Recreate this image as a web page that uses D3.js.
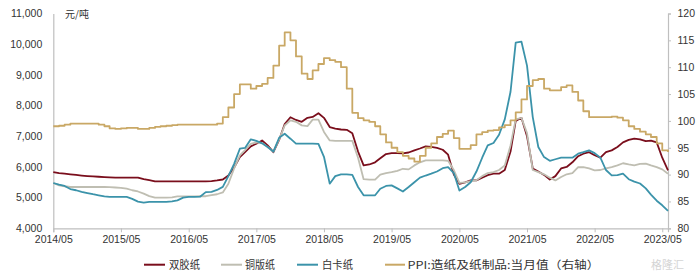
<!DOCTYPE html>
<html>
<head>
<meta charset="utf-8">
<script src="https://cdn.jsdelivr.net/npm/d3@7"></script>
<style>
  body { margin: 0; background: #fff; }
  svg { display: block; font-family: "Liberation Sans", Arial, sans-serif; }
</style>
</head>
<body>
<svg id="chart" width="700" height="272"></svg>
<script>
// monthly, 2014/05 .. 2023/06
const startMonth = new Date(2014, 4, 1);
const endMonth = new Date(2023, 5, 1);
const months = d3.timeMonth.range(startMonth, d3.timeMonth.offset(endMonth, 1));

const shuangjiao = [5833, 5800, 5780, 5760, 5740, 5720, 5703, 5690, 5680, 5670,
  5660, 5650, 5650, 5650, 5650, 5650, 5600, 5570, 5530, 5530,
  5530, 5530, 5530, 5530, 5530, 5530, 5530, 5530, 5540, 5560,
  5590, 5720, 5980, 6320, 6480, 6670, 6757, 6860, 6700, 6480,
  6880, 7400, 7620, 7530, 7470, 7600, 7630, 7750, 7600, 7300,
  7250, 7220, 7210, 7100, 6500, 6050, 6080, 6150, 6280, 6420,
  6450, 6450, 6440, 6470, 6540, 6600, 6670, 6650, 6620, 6560,
  6400, 5750, 5450, 5500, 5560, 5563, 5650, 5730, 5780, 5780,
  5900, 6500, 7500, 7600, 7000, 5950, 5850, 5740, 5590, 5700,
  5950, 6000, 6150, 6350, 6430, 6480, 6380, 6300, 6480, 6540,
  6650, 6800, 6880, 6920, 6900, 6840, 6860, 6800, 6300, 5890];

const tongban = [5476, 5400, 5370, 5346, 5346, 5346, 5346, 5346, 5346, 5346,
  5340, 5330, 5320, 5290, 5240, 5200, 5130, 5050, 5000, 5000,
  5000, 5010, 5042, 5042, 5042, 5042, 5045, 5045, 5080, 5110,
  5170, 5450, 5950, 6380, 6550, 6750, 6800, 6780, 6650, 6500,
  6900, 7350, 7517, 7470, 7354, 7330, 7540, 7540, 7140, 6865,
  6850, 6850, 6850, 6850, 6300, 5600, 5585, 5585, 5750, 5800,
  5830, 5870, 5940, 5920, 6050, 6150, 6214, 6214, 6214, 6214,
  6200, 5900, 5480, 5500, 5540, 5563, 5700, 5800, 5833, 5900,
  6050, 6700, 7550, 7600, 7100, 5900, 5833, 5760, 5650, 5560,
  5670, 5760, 5800, 5990, 5996, 5950, 5890, 5900, 5950, 5996,
  6050, 6120, 6080, 6051, 6100, 6107, 6050, 5996, 5920, 5780];

const baika = [5476, 5420, 5380, 5280, 5240, 5190, 5150, 5110, 5075, 5040,
  5022, 5022, 5022, 5022, 4960, 4870, 4840, 4860, 4860, 4860,
  4860, 4880, 4912, 5000, 5022, 5022, 5030, 5180, 5190, 5250,
  5350, 5700, 6100, 6594, 6620, 6900, 6850, 6770, 6650, 6500,
  6950, 7080, 6920, 6757, 6757, 6757, 6757, 6750, 6330, 5454,
  5700, 5758, 5758, 5740, 5346, 5075, 5075, 5075, 5290, 5380,
  5400, 5300, 5200, 5346, 5500, 5650, 5720, 5780, 5850, 5960,
  5996, 5800, 5230, 5346, 5500, 5850, 6300, 6700, 6780, 7050,
  7550, 8450, 10050, 10080, 9300, 7625, 6650, 6320, 6200, 6250,
  6300, 6300, 6300, 6432, 6480, 6540, 6450, 6300, 5900, 5726,
  5730, 5780, 5600, 5520, 5460, 5300, 5100, 4900, 4750, 4570];

const ppi = [99.0, 99.1, 99.3, 99.5, 99.5, 99.5, 99.5, 99.5, 99.3, 99.0,
  98.6, 98.5, 98.6, 98.7, 98.7, 98.5, 98.5, 98.7, 98.9, 99.0,
  99.1, 99.2, 99.3, 99.3, 99.3, 99.3, 99.3, 99.3, 99.3, 99.5,
  100.7, 102.5, 105.0, 106.8, 106.8, 106.0, 106.5, 106.9, 108.0, 110.3,
  114.0, 116.5, 115.0, 112.0, 108.8, 107.8, 109.4, 110.6, 111.7, 111.3,
  111.0, 110.0, 106.0, 101.5, 100.5, 100.1, 99.8, 99.0, 97.5, 96.0,
  95.0, 94.2, 93.5, 93.0, 92.4, 93.5, 95.0, 95.8, 97.0, 97.6,
  98.2, 96.8, 94.8, 94.8, 95.5, 97.5, 97.9, 98.2, 98.3, 98.8,
  99.2, 100.1, 101.6, 104.0, 106.5, 107.6, 107.8, 106.0, 105.7, 105.7,
  106.3, 106.6, 105.4, 103.8, 101.8, 100.7, 100.7, 100.7, 100.7, 100.8,
  100.6, 100.1, 99.0, 98.5, 98.0, 97.5, 97.0, 95.8, 94.5, 94.2];

const leftTicks = [4000, 5000, 6000, 7000, 8000, 9000, 10000, 11000];
const rightTicks = [80, 85, 90, 95, 100, 105, 110, 115, 120];
const yearTicks = d3.range(2014, 2024).map(y => new Date(y, 4, 1));

const series = [
  { name: '双胶纸', values: shuangjiao, color: '#7a0e1c', axis: 'left' },
  { name: '铜版纸', values: tongban, color: '#bfbeb2', axis: 'left' },
  { name: '白卡纸', values: baika, color: '#3b93aa', axis: 'left' },
  { name: 'PPI:造纸及纸制品:当月值（右轴）', values: ppi, color: '#c9a865', axis: 'right' },
];

const margin = { left: 53.3, right: 668, top: 13.5, bottom: 228.3 };
const axisColor = '#bfbfbf';
const textColor = '#333';
const fontSize = '10.5px';

const svg = d3.select('#chart');

const x = d3.scaleTime()
  .domain([startMonth, endMonth])
  .range([margin.left, margin.right]);
const yLeft = d3.scaleLinear()
  .domain([4000, 11000])
  .range([margin.bottom, margin.top]);
const yRight = d3.scaleLinear()
  .domain([80, 120])
  .range([margin.bottom, margin.top]);

// axes
const xAxis = svg.append('g')
  .attr('transform', `translate(0,${margin.bottom})`)
  .call(d3.axisBottom(x).tickValues(yearTicks).tickFormat(d3.timeFormat('%Y/%m'))
    .tickSizeOuter(0).tickSize(4).tickPadding(3));

const leftAxis = svg.append('g')
  .attr('transform', `translate(${margin.left},0)`)
  .call(d3.axisLeft(yLeft).tickValues(leftTicks).tickFormat(d3.format(','))
    .tickSize(0).tickPadding(11));

const rightAxis = svg.append('g')
  .attr('transform', `translate(${margin.right},0)`)
  .call(d3.axisRight(yRight).tickValues(rightTicks)
    .tickSizeOuter(0).tickSize(3).tickPadding(6.5));

[xAxis, leftAxis, rightAxis].forEach((g) => {
  g.select('.domain').attr('stroke', axisColor).attr('stroke-width', 1.2);
  g.selectAll('.tick line').attr('stroke', axisColor);
  g.selectAll('text')
    .attr('fill', textColor)
    .style('font-size', fontSize)
    .style('font-family', '"Liberation Sans", Arial, sans-serif');
});

svg.append('text')
  .attr('x', 65)
  .attr('y', 17.5)
  .attr('fill', textColor)
  .style('font-size', '10px')
  .style('font-family', '"Noto Sans CJK SC", sans-serif')
  .text('元/吨');

// lines
series.forEach((s) => {
  const yScale = s.axis === 'left' ? yLeft : yRight;
  const line = d3.line()
    .x((d, i) => x(months[i]))
    .y(d => yScale(d))
    .curve(s.axis === 'right' ? d3.curveStepAfter : d3.curveLinear);
  svg.append('path')
    .datum(s.values)
    .attr('fill', 'none')
    .attr('stroke', s.color)
    .attr('stroke-width', 1.8)
    .attr('stroke-linejoin', 'round')
    .attr('d', line);
});

// legend
const legendY = 264.7;
const legendItems = [
  { x0: 144, x1: 165, tx: 169, tw: 31 },
  { x0: 221, x1: 242, tx: 245, tw: 30 },
  { x0: 297, x1: 318, tx: 322, tw: 31 },
  { x0: 385, x1: 405, tx: 407.5, tw: 192 },
];

const legend = svg.append('g');
legendItems.forEach((item, i) => {
  legend.append('line')
    .attr('x1', item.x0)
    .attr('x2', item.x1)
    .attr('y1', legendY)
    .attr('y2', legendY)
    .attr('stroke', series[i].color)
    .attr('stroke-width', 2);
  legend.append('text')
    .attr('x', item.tx)
    .attr('y', legendY + 4)
    .attr('fill', textColor)
    .attr('textLength', item.tw)
    .attr('lengthAdjust', 'spacingAndGlyphs')
    .style('font-size', '11px')
    .style('font-family', '"Noto Sans CJK SC", sans-serif')
    .text(series[i].name);
});

// watermark
svg.append('text')
  .attr('x', 651)
  .attr('y', 269)
  .attr('fill', '#d4d4d4')
  .style('font-size', '11px')
  .style('font-family', '"Noto Sans CJK SC", sans-serif')
  .text('格隆汇');
</script>
</body>
</html>
